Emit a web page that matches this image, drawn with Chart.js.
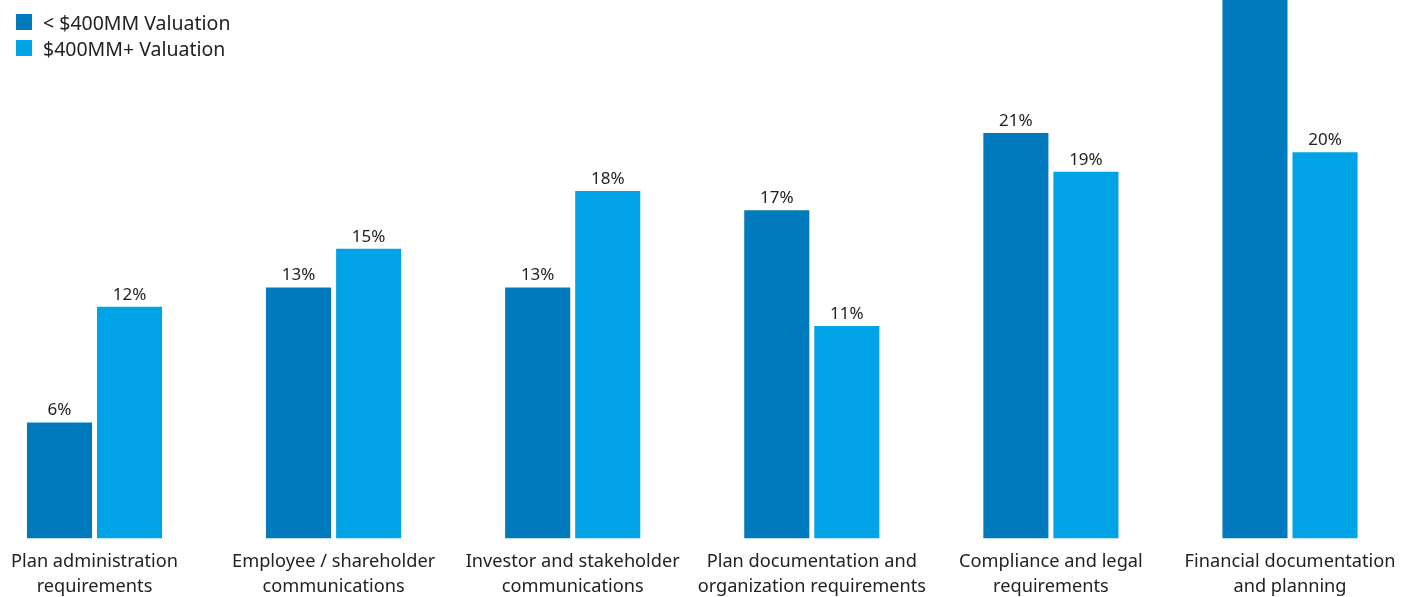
<!DOCTYPE html>
<html>
<head>
<meta charset="utf-8">
<script src="https://cdn.jsdelivr.net/npm/chart.js@4/dist/chart.umd.min.js"></script>
<style>
  html, body { margin: 0; padding: 0; background: #fff; }
  #wrap { position: relative; width: 1411px; height: 597px; }
  #legend { position: absolute; left: 16px; top: 9px; font-family: "Noto Sans", sans-serif; font-size: 19.5px; color: #222; }
  .li { display: flex; align-items: center; height: 26px; }
  .sw { width: 16px; height: 16px; margin-right: 11px; }
</style>
</head>
<body>
<div id="wrap">
  <canvas id="c" width="1411" height="597"></canvas>
  <div id="legend"></div>
</div>
<script>
const categories = [
  ["Plan administration", "requirements"],
  ["Employee / shareholder", "communications"],
  ["Investor and stakeholder", "communications"],
  ["Plan documentation and", "organization requirements"],
  ["Compliance and legal", "requirements"],
  ["Financial documentation", "and planning"]
];
const seriesNames = ["< $400MM Valuation", "$400MM+ Valuation"];
const underValues = [6, 13, 13, 17, 21, 29];
const overValues = [12, 15, 18, 11, 19, 20];
const colors = ["#0079BD", "#00A3E6"];

const FONT = '"Noto Sans", sans-serif';

const valueLabels = {
  id: 'valueLabels',
  afterDatasetsDraw(chart) {
    const ctx = chart.ctx;
    ctx.save();
    ctx.font = '17px ' + FONT;
    ctx.fillStyle = '#222';
    ctx.textAlign = 'center';
    ctx.textBaseline = 'alphabetic';
    chart.data.datasets.forEach((ds, di) => {
      const meta = chart.getDatasetMeta(di);
      meta.data.forEach((bar, i) => {
        ctx.fillText(ds.data[i] + '%', bar.x, bar.y - 7);
      });
    });
    ctx.restore();
  }
};

const chart = new Chart(document.getElementById('c'), {
  type: 'bar',
  data: {
    labels: categories,
    datasets: [
      { label: seriesNames[0], data: underValues, backgroundColor: colors[0] },
      { label: seriesNames[1], data: overValues, backgroundColor: colors[1] }
    ]
  },
  options: {
    responsive: false,
    animation: false,
    layout: { padding: { left: 94.5, right: 121, top: 0, bottom: -13 } },
    datasets: { bar: { categoryPercentage: 0.586, barPercentage: 0.929, clip: false } },
    plugins: { legend: { display: false }, tooltip: { enabled: false } },
    scales: {
      x: {
        offset: false,
        grid: { display: false, drawTicks: false },
        border: { display: false },
        ticks: { color: '#222', font: { family: FONT, size: 18.2, lineHeight: 1.37 }, padding: 11, maxRotation: 0, autoSkip: false }
      },
      y: {
        display: false,
        min: 0,
        max: 27.9
      }
    }
  },
  plugins: [valueLabels]
});

const legend = document.getElementById('legend');
chart.data.datasets.forEach(ds => {
  const row = document.createElement('div');
  row.className = 'li';
  const sw = document.createElement('span');
  sw.className = 'sw';
  sw.style.background = ds.backgroundColor;
  const t = document.createElement('span');
  t.textContent = ds.label;
  row.appendChild(sw);
  row.appendChild(t);
  legend.appendChild(row);
});
</script>
</body>
</html>
